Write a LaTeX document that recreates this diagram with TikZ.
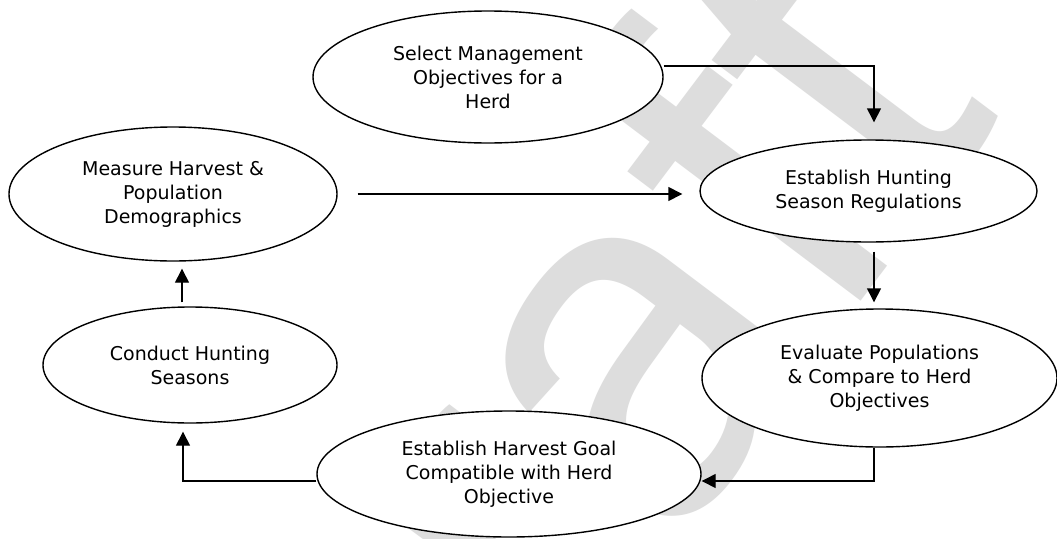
\documentclass[tikz,border=0pt]{standalone}
\usepackage{fontspec}
\setmainfont{DejaVu Sans}
\newfontfamily\wmfont{Liberation Sans}
\usetikzlibrary{shapes.geometric,arrows.meta}
\definecolor{wmgray}{RGB}{221,221,221}
\tikzset{
  stage/.style={ellipse, draw=black, line width=1.4pt, fill=white, inner sep=0pt,
    align=center, font=\fontsize{19}{24}\selectfont},
  arr/.style={line width=1.4pt, -{Triangle[length=14pt,width=14pt]}},
}
\begin{document}
\begin{tikzpicture}[x=1pt,y=-1pt]
\useasboundingbox[fill=white] (0,0) rectangle (1057,538);
% watermark
\node[rotate=53, anchor=base west, text=wmgray, font=\wmfont\fontsize{500}{500}\selectfont, inner sep=0pt] (wm) at (350,980) {Draft};
% stages
\node[stage, minimum width=350pt, minimum height=132pt] (sel)  at (488,77)  {Select Management\\Objectives for a\\Herd};
\node[stage, minimum width=328pt, minimum height=134pt] (meas) at (173,194) {Measure Harvest \&\\Population\\Demographics};
\node[stage, minimum width=337pt, minimum height=102pt] (hunt) at (868.5,191) {Establish Hunting\\Season Regulations};
\node[stage, minimum width=355pt, minimum height=138pt] (eval) at (879.5,378) {Evaluate Populations\\\& Compare to Herd\\Objectives};
\node[stage, minimum width=294pt, minimum height=116pt] (cond) at (190,365) {Conduct Hunting\\Seasons};
\node[stage, minimum width=384pt, minimum height=126pt] (goal) at (509,474) {Establish Harvest Goal\\Compatible with Herd\\Objective};
% connectors
\draw[arr] ([yshift=11pt]sel.east) -| ([xshift=5.5pt,yshift=17pt]hunt.north);
\draw[arr, shorten <=20pt, shorten >=17pt] (meas.east) -- (meas.east -| hunt.west);
\draw[arr, shorten <=9pt, shorten >=6pt] ([xshift=5.5pt]hunt.south) -- ([xshift=5.5pt]hunt.south |- eval.north);
\draw[arr] ([xshift=-5.5pt]eval.south) |- ([yshift=-7pt]goal.east);
\draw[arr] ([yshift=-7pt]goal.west) -| ([xshift=-7pt,yshift=-8pt]cond.south);
\draw[arr, shorten <=4pt, shorten >=7pt] ([xshift=-8pt]cond.north) -- ([xshift=-8pt]cond.north |- meas.south);
\end{tikzpicture}
\end{document}
